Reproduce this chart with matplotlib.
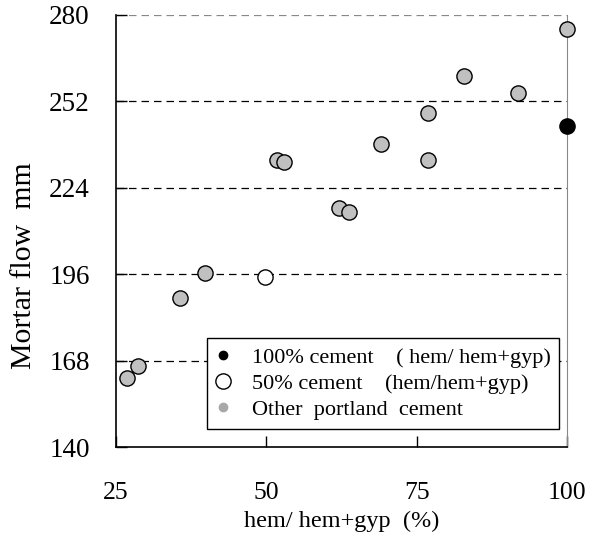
import numpy as np
import matplotlib
matplotlib.use('Agg')
import matplotlib.pyplot as plt
from matplotlib.lines import Line2D

plt.rcParams['font.family'] = ['Liberation Serif', 'DejaVu Serif']

# data
x_other = [26.8, 28.7, 35.6, 39.8, 51.7, 53.0, 62.0, 63.8, 69.0, 76.8, 76.8, 82.8, 91.9, 100.0]
y_other = [162.5, 166.4, 188.2, 196.5, 233.0, 232.5, 217.4, 216.1, 238.2, 233.0, 248.3, 260.3, 254.6, 275.4]
x_full = [100.0]
y_full = [244.1]
x_half = [49.8]
y_half = [195.2]

xticks = [25, 50, 75, 100]
yticks = [140, 168, 196, 224, 252, 280]

fig = plt.figure(figsize=(5.92, 5.5), dpi=100)
ax = fig.add_axes([0.196, 0.187, 0.762, 0.786])

for yv in yticks[1:]:
    ax.axhline(yv, color='k' if yv < 280 else '#888888', linestyle=(0, (6, 4)), linewidth=0.9, zorder=1)

ax.scatter(x_other, y_other, s=120, c='#c0c0c0', edgecolors='k', linewidths=1.0, zorder=3, clip_on=False)
ax.scatter(x_half, y_half, s=120, c='white', edgecolors='k', linewidths=1.0, zorder=3, clip_on=False)
ax.scatter(x_full, y_full, s=120, c='k', edgecolors='k', linewidths=1.0, zorder=4, clip_on=False)

ax.set_xlim(25, 100)
ax.set_ylim(140, 280)
ax.set_xticks(xticks)
ax.set_yticks(yticks)
ax.tick_params(direction='in', length=8, width=1.0)
ax.tick_params(axis='y', pad=19, labelsize=19.5)
ax.tick_params(axis='x', pad=25, labelsize=18.5)

ax.spines['top'].set_visible(False)
ax.spines['right'].set_color('#888888')
ax.spines['left'].set_linewidth(1.2)
ax.spines['bottom'].set_linewidth(1.2)

ax.set_ylabel('Mortar flow  mm', fontsize=21.5)
ax.yaxis.set_label_coords(-0.176, 0.42)
ax.set_xlabel('hem/ hem+gyp  (%)', fontsize=17.5, labelpad=5)

handles = [
    Line2D([], [], marker='o', linestyle='none', markersize=6, markerfacecolor='k', markeredgecolor='k'),
    Line2D([], [], marker='o', linestyle='none', markersize=11, markerfacecolor='white', markeredgecolor='k'),
    Line2D([], [], marker='o', linestyle='none', markersize=6, markerfacecolor='#a8a8a8', markeredgecolor='#a8a8a8'),
]
labels = ['100% cement    ( hem/ hem+gyp)', '50% cement    (hem/hem+gyp)', 'Other  portland  cement']
leg = ax.legend(handles, labels, loc='lower left', bbox_to_anchor=(0.202, 0.042), fontsize=16,
                frameon=True, fancybox=False, edgecolor='k', framealpha=1, borderpad=0.4,
                labelspacing=0.25, handlelength=0.6, handletextpad=1.0, borderaxespad=0)
leg.get_frame().set_linewidth(1.0)

fig.savefig('out.png', dpi=100)
